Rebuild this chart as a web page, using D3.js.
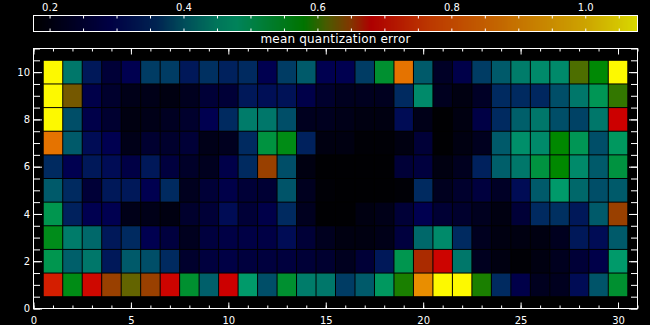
<!DOCTYPE html>
<html>
<head>
<meta charset="utf-8">
<script src="https://cdn.jsdelivr.net/npm/d3@7"></script>
<style>
  html, body { margin: 0; padding: 0; background: #000; }
  svg { display: block; }
  text { font-family: "DejaVu Sans", sans-serif; fill: #fff; }
</style>
</head>
<body>
<script>
// mean quantization error of each map node
// row1 is the bottom row (y = 1), columns run x = 1..30
let row1  = [0.72, 0.56, 0.69, 0.65, 0.62, 0.65, 0.685, 0.535, 0.405, 0.68, 0.48, 0.39, 0.535, 0.435, 0.43, 0.375, 0.40, 0.49, 0.59, 0.91, 1.07, 1.07, 0.59, 0.36, 0.28, 0.22, 0.22, 0.31, 0.395, 0.535];
let row2  = [0.505, 0.405, 0.43, 0.33, 0.40, 0.39, 0.36, 0.24, 0.265, 0.275, 0.265, 0.265, 0.265, 0.255, 0.245, 0.22, 0.255, 0.33, 0.505, 0.66, 0.685, 0.43, 0.22, 0.20, 0.185, 0.20, 0.22, 0.255, 0.28, 0.48];
let row3  = [0.555, 0.435, 0.415, 0.33, 0.36, 0.29, 0.265, 0.22, 0.265, 0.275, 0.275, 0.275, 0.31, 0.255, 0.22, 0.20, 0.20, 0.21, 0.265, 0.415, 0.45, 0.36, 0.22, 0.20, 0.20, 0.20, 0.22, 0.33, 0.31, 0.40];
let row4  = [0.505, 0.345, 0.29, 0.29, 0.21, 0.21, 0.20, 0.24, 0.255, 0.31, 0.255, 0.28, 0.36, 0.22, 0.18, 0.18, 0.20, 0.21, 0.255, 0.29, 0.25, 0.24, 0.22, 0.20, 0.255, 0.36, 0.365, 0.33, 0.40, 0.65];
let row5  = [0.40, 0.36, 0.255, 0.33, 0.33, 0.29, 0.36, 0.22, 0.255, 0.28, 0.255, 0.25, 0.395, 0.22, 0.185, 0.18, 0.18, 0.18, 0.185, 0.36, 0.22, 0.24, 0.265, 0.23, 0.31, 0.40, 0.48, 0.415, 0.39, 0.40];
let row6  = [0.36, 0.29, 0.33, 0.31, 0.275, 0.33, 0.265, 0.235, 0.22, 0.28, 0.36, 0.65, 0.39, 0.20, 0.18, 0.18, 0.18, 0.18, 0.255, 0.265, 0.20, 0.22, 0.345, 0.405, 0.43, 0.52, 0.58, 0.45, 0.40, 0.52];
let row7  = [0.86, 0.40, 0.31, 0.29, 0.21, 0.245, 0.24, 0.255, 0.21, 0.22, 0.36, 0.52, 0.56, 0.345, 0.20, 0.20, 0.185, 0.185, 0.20, 0.255, 0.18, 0.20, 0.22, 0.40, 0.46, 0.45, 0.58, 0.50, 0.39, 0.49];
let row8  = [1.07, 0.39, 0.28, 0.245, 0.20, 0.21, 0.225, 0.24, 0.29, 0.36, 0.435, 0.43, 0.39, 0.22, 0.22, 0.21, 0.20, 0.20, 0.31, 0.21, 0.18, 0.20, 0.275, 0.36, 0.405, 0.43, 0.39, 0.38, 0.43, 0.68];
let row9  = [1.07, 0.63, 0.28, 0.24, 0.21, 0.21, 0.20, 0.22, 0.255, 0.255, 0.33, 0.315, 0.32, 0.28, 0.24, 0.22, 0.22, 0.22, 0.36, 0.45, 0.22, 0.20, 0.23, 0.36, 0.36, 0.355, 0.39, 0.43, 0.50, 0.60];
let row10 = [1.07, 0.43, 0.33, 0.255, 0.29, 0.375, 0.375, 0.33, 0.365, 0.345, 0.36, 0.29, 0.375, 0.40, 0.29, 0.29, 0.375, 0.535, 0.86, 0.40, 0.23, 0.28, 0.375, 0.40, 0.435, 0.45, 0.45, 0.61, 0.575, 1.07];

let xLabels = [0, 5, 10, 15, 20, 25, 30];
let yLabels = [0, 2, 4, 6, 8, 10];
let barLabels = [0.2, 0.4, 0.6, 0.8, 1.0];
let barTitle = "mean quantization error";

// colour table
let tableStops  = [0.176, 0.29, 0.36, 0.40, 0.45, 0.48, 0.58, 0.615, 0.65, 0.68, 0.77, 0.90, 1.00, 1.078];
let tableColors = ["#000000", "#000050", "#002a60", "#005a6a", "#008a6a", "#009a6a", "#008800", "#5a6a00", "#994000", "#cc0000", "#dd4400", "#e88800", "#f0c000", "#ffff00"];

let rows = [row1, row2, row3, row4, row5, row6, row7, row8, row9, row10];

let cells = [];
rows.forEach((r, j) => {
    r.forEach((v, i) => {
        cells.push({ col: i + 1, row: j + 1, value: v });
    });
});

let svg = d3.select("body")
    .append("svg")
        .attr("width", 650)
        .attr("height", 325);

svg.append("rect")
    .attr("width", 650)
    .attr("height", 325)
    .attr("fill", "#000");

let colorScale = d3.scaleLinear()
    .domain(tableStops)
    .range(tableColors)
    .interpolate(d3.interpolateRgb)
    .clamp(true);

let xScale = d3.scaleLinear()
    .domain([0, 31])
    .range([33.5, 637.5]);

let yScale = d3.scaleLinear()
    .domain([0, 11])
    .range([308.5, 48.5]);

// colour bar
let barScale = d3.scaleLinear()
    .domain([0.176, 1.078])
    .range([33.5, 637.5]);
let barTop = 15.5, barBottom = 31.5;

svg.append("g")
    .selectAll("rect")
    .data(d3.range(33.5, 637.5, 1))
    .enter()
        .append("rect")
            .attr("x", d => d)
            .attr("y", barTop)
            .attr("width", 1.2)
            .attr("height", barBottom - barTop)
            .attr("fill", d => colorScale(barScale.invert(d + 0.5)));

svg.append("rect")
    .attr("x", 33.5)
    .attr("y", barTop)
    .attr("width", 604)
    .attr("height", barBottom - barTop)
    .attr("fill", "none")
    .attr("stroke", "#fff");

let barTicks = d3.range(0.2, 1.07, 0.05);

svg.append("g")
    .attr("class", "barTop")
    .attr("transform", `translate(0, ${barTop})`)
    .call(d3.axisTop(barScale).tickValues(barTicks).tickSize(-3).tickFormat(""));

svg.append("g")
    .attr("class", "barBottom")
    .attr("transform", `translate(0, ${barBottom})`)
    .call(d3.axisBottom(barScale).tickValues(barTicks).tickSize(-3).tickFormat(""));

svg.append("g")
    .attr("class", "barLabels")
    .attr("transform", `translate(0, ${barTop})`)
    .call(d3.axisTop(barScale).tickValues(barLabels).tickSize(0).tickPadding(4.5).tickFormat(d3.format(".1f")));

svg.append("text")
    .attr("x", 335.5)
    .attr("y", 42.7)
    .attr("text-anchor", "middle")
    .style("font-size", "12px")
    .style("letter-spacing", "0.2px")
    .text(barTitle);

// cells
svg.append("g")
    .attr("class", "cells")
    .selectAll("rect")
    .data(cells)
    .enter()
        .append("rect")
            .attr("x", d => xScale(d.col - 0.5) + 0.5)
            .attr("y", d => yScale(d.row + 0.5) + 0.5)
            .attr("width", d => xScale(d.col + 0.5) - xScale(d.col - 0.5) - 1)
            .attr("height", d => yScale(d.row - 0.5) - yScale(d.row + 0.5) - 1)
            .attr("fill", d => colorScale(d.value));

// frame and ticks
svg.append("rect")
    .attr("x", 33.5)
    .attr("y", 48.5)
    .attr("width", 604)
    .attr("height", 260)
    .attr("fill", "none")
    .attr("stroke", "#fff");

let xMinor = d3.range(0, 32, 1);
let yMinor = d3.range(0, 11.01, 0.5);

svg.append("g")
    .attr("transform", `translate(0, 308.5)`)
    .call(d3.axisBottom(xScale).tickValues(xMinor).tickSize(-3).tickFormat(""));
svg.append("g")
    .attr("transform", `translate(0, 308.5)`)
    .call(d3.axisBottom(xScale).tickValues(xLabels).tickSize(-6).tickPadding(8).tickFormat(d3.format("d")));
svg.append("g")
    .attr("transform", `translate(0, 48.5)`)
    .call(d3.axisTop(xScale).tickValues(xMinor).tickSize(-3).tickFormat(""));
svg.append("g")
    .attr("transform", `translate(0, 48.5)`)
    .call(d3.axisTop(xScale).tickValues(xLabels).tickSize(-6).tickFormat(""));

svg.append("g")
    .attr("transform", `translate(33.5, 0)`)
    .call(d3.axisLeft(yScale).tickValues(yMinor).tickSize(-6.5).tickFormat(""));
svg.append("g")
    .attr("transform", `translate(33.5, 0)`)
    .call(d3.axisLeft(yScale).tickValues(yLabels).tickSize(-8.5).tickPadding(3.5).tickFormat(d3.format("d")));
svg.append("g")
    .attr("transform", `translate(637.5, 0)`)
    .call(d3.axisRight(yScale).tickValues(yMinor).tickSize(-6.5).tickFormat(""));
svg.append("g")
    .attr("transform", `translate(637.5, 0)`)
    .call(d3.axisRight(yScale).tickValues(yLabels).tickSize(-8.5).tickFormat(""));

svg.selectAll(".domain").remove();
svg.selectAll(".tick line").attr("stroke", "#fff");
svg.selectAll(".tick text")
    .attr("fill", "#fff")
    .style("font-family", "'DejaVu Sans', sans-serif")
    .style("font-size", "10px");
</script>
</body>
</html>
